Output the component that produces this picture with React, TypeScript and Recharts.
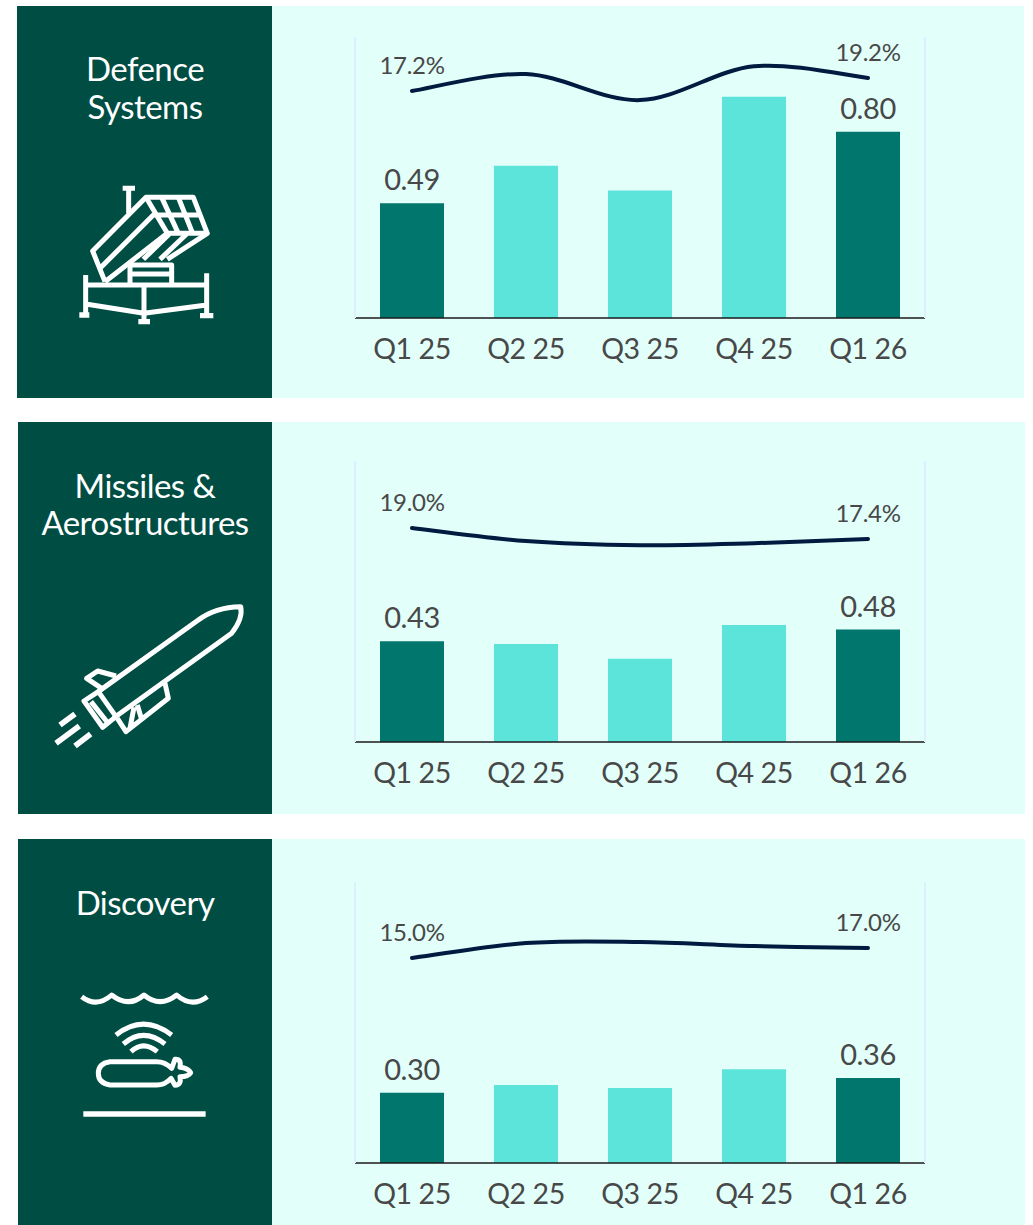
import React from "react";
import { ComposedChart, Bar, Line, XAxis, YAxis, Cell, LabelList } from "recharts";

const quarters = ["Q1 25", "Q2 25", "Q3 25", "Q4 25", "Q1 26"];

const defenceBars = [0.49, 0.65, 0.545, 0.945, 0.795];
const defenceMargin = [17.2, 19.8, 15.8, 21.0, 19.2];
const defenceBarLabels = ["0.49", null, null, null, "0.80"];
const defenceMarginLabels = ["17.2%", null, null, null, "19.2%"];

const missilesBars = [0.43, 0.418, 0.355, 0.5, 0.48];
const missilesMargin = [19.0, 17.1, 16.5, 16.8, 17.4];
const missilesBarLabels = ["0.43", null, null, null, "0.48"];
const missilesMarginLabels = ["19.0%", null, null, null, "17.4%"];

const discoveryBars = [0.3, 0.333, 0.32, 0.4, 0.363];
const discoveryMargin = [15.0, 18.0, 18.2, 17.4, 17.0];
const discoveryBarLabels = ["0.30", null, null, null, "0.36"];
const discoveryMarginLabels = ["15.0%", null, null, null, "17.0%"];

const FONT = "Lato, 'Open Sans', sans-serif";
const DARK = "#004d43";
const BG = "#e2fffa";
const BAR_DARK = "#00766c";
const BAR_LIGHT = "#5ce3da";
const TEXT = "#484848";
const PLOT_H = 281;

// Office-style smoothed line: each tangent follows the two neighbouring points.
function smoothCurve(context: any) {
  let pts: [number, number][] = [];
  return {
    areaStart() {},
    areaEnd() {},
    lineStart() {
      pts = [];
    },
    point(x: number, y: number) {
      pts.push([+x, +y]);
    },
    lineEnd() {
      pts.forEach((p, i) => {
        if (i === 0) {
          context.moveTo(p[0], p[1]);
          return;
        }
        const a = pts[Math.max(i - 2, 0)];
        const b = pts[i - 1];
        const d = pts[Math.min(i + 1, pts.length - 1)];
        context.bezierCurveTo(
          b[0] + (p[0] - a[0]) / 6,
          b[1] + (p[1] - a[1]) / 6,
          p[0] - (d[0] - b[0]) / 6,
          p[1] - (d[1] - b[1]) / 6,
          p[0],
          p[1]
        );
      });
    },
  };
}

type PanelProps = {
  top: number;
  height: number;
  left: number;
  right: number;
  plotTop: number;
  title: string[];
  titleY: number[];
  bars: number[];
  margin: number[];
  barLabels: (string | null)[];
  marginLabels: (string | null)[];
  marginDomain: [number, number];
  icon: React.ReactNode;
};

function Panel(p: PanelProps) {
  const rows = quarters.map((q, i) => ({
    q,
    bar: p.bars[i],
    pct: p.margin[i],
    barLabel: p.barLabels[i],
    pctLabel: p.marginLabels[i],
  }));
  return (
    <>
      <div style={{ position: "absolute", left: p.left, top: p.top, width: 272 - p.left, height: p.height, background: DARK }} />
      <div style={{ position: "absolute", left: 272, top: p.top, width: p.right - 272, height: p.height, background: BG }} />
      {p.title.map((t, i) => (
        <div
          key={t}
          style={{
            position: "absolute",
            left: 18,
            width: 254,
            top: p.titleY[i] - 22,
            height: 40,
            lineHeight: "40px",
            textAlign: "center",
            color: "#fff",
            fontFamily: FONT,
            fontSize: 33,
            letterSpacing: -0.55,
          }}
        >
          {t}
        </div>
      ))}
      <svg style={{ position: "absolute", left: 0, top: 0 }} width={1033} height={1225}>
        {p.icon}
      </svg>
      <div style={{ position: "absolute", left: 272, top: p.top }}>
        <ComposedChart
          width={752}
          height={p.plotTop + PLOT_H + 60}
          data={rows}
          margin={{ top: p.plotTop, left: 82, right: 98, bottom: 0 }}
        >
          <XAxis
            dataKey="q"
            height={60}
            tickLine={false}
            axisLine={{ stroke: "#1a1a1a", strokeWidth: 1.5 }}
            tick={{ fill: TEXT, fontSize: 28.5, fontFamily: FONT, letterSpacing: -0.4 }}
            tickMargin={15}
            interval={0}
          />
          <YAxis yAxisId="bars" width={1} domain={[0, 1.2]} tick={false} tickLine={false} axisLine={{ stroke: "#dcf0ff", strokeWidth: 2 }} />
          <YAxis yAxisId="pct" orientation="right" width={1} domain={p.marginDomain} tick={false} tickLine={false} axisLine={{ stroke: "#dcf0ff", strokeWidth: 2 }} />
          <Bar yAxisId="bars" dataKey="bar" barSize={64} isAnimationActive={false}>
            {rows.map((_, i) => (
              <Cell key={i} fill={i === 0 || i === rows.length - 1 ? BAR_DARK : BAR_LIGHT} />
            ))}
            <LabelList dataKey="barLabel" position="top" offset={13} fill={TEXT} fontSize={29} fontFamily={FONT} letterSpacing={-0.4} />
          </Bar>
          <Line
            yAxisId="pct"
            dataKey="pct"
            type={smoothCurve as any}
            stroke="#001a40"
            strokeWidth={4}
            strokeLinecap="round"
            dot={false}
            activeDot={false}
            isAnimationActive={false}
          >
            <LabelList dataKey="pctLabel" position="top" offset={17} fill={TEXT} fontSize={24} fontFamily={FONT} letterSpacing={-0.3} />
          </Line>
        </ComposedChart>
      </div>
    </>
  );
}

const iconLine = { fill: "none", stroke: "#fff", strokeWidth: 15, strokeLinejoin: "round" as const, strokeLinecap: "butt" as const };

const LauncherIcon = (
  <g transform="translate(50,170) scale(0.3333)" {...iconLine}>
    <path d="M218,55 H255 M236,55 V130" />
    <path d="M165,335 L128,243 L288,82 H430 L472,190 L352,268" />
    <path d="M288,82 L352,190 H472 M150,295 L310,135 H450 M165,335 L352,190" />
    <path d="M335,82 L385,190 M385,82 L428,190" />
    <path d="M280,268 L358,192 M330,268 L410,192" />
    <path d="M240,345 V285 H365 V345 M240,312 H365" />
    <path d="M107,315 V432 M470,310 V432 M282,345 V452 M107,345 H470 M107,402 L282,430 L470,405" />
    <path d="M88,435 H118 M265,455 H300 M450,437 H490" strokeWidth={16} />
  </g>
);

const MissileIcon = (
  <g transform="translate(30,590) scale(0.3333)" {...iconLine}>
    <path d="M205,305 L505,90 Q555,52 632,50 Q640,85 605,130 L250,385" />
    <path d="M162,333 L205,305 L258,380 L218,412 Z M183,335 L232,397" />
    <path d="M215,295 L170,265 L203,243 L258,258" />
    <path d="M262,385 L288,425 L415,325 L405,280 M300,415 L312,352 M322,345 L334,385" />
    <path d="M90,405 L135,372 M78,460 L148,408 M135,468 L182,432" strokeWidth={17} />
  </g>
);

const SubmarineIcon = (
  <g transform="translate(60,980) scale(0.3333)" {...iconLine}>
    <path d="M65,50 Q110,85 155,45 Q205,85 252,45 Q300,85 350,45 Q395,85 442,50" />
    <path d="M168,165 Q250,100 335,165 M190,192 Q250,140 315,192 M213,215 Q250,180 292,215" />
    <path d="M150,245 L290,245 Q315,245 335,265 L345,238 Q365,235 360,262 Q385,265 392,278 Q385,290 360,290 Q365,315 345,316 L333,295 Q315,315 290,315 L150,315 Q115,310 115,280 Q115,250 150,245 Z" />
    <path d="M70,402 H437" strokeWidth={16} />
  </g>
);

export default function App() {
  return (
    <div style={{ position: "absolute", left: 0, top: 0, width: 1033, height: 1225, background: "#fff", overflow: "hidden" }}>
      <Panel
        top={6}
        height={392}
        left={17}
        right={1024}
        plotTop={31}
        title={["Defence", "Systems"]}
        titleY={[70, 108]}
        bars={defenceBars}
        margin={defenceMargin}
        barLabels={defenceBarLabels}
        marginLabels={defenceMarginLabels}
        marginDomain={[-17.7, 25.5]}
        icon={LauncherIcon}
      />
      <Panel
        top={422}
        height={392}
        left={18}
        right={1025}
        plotTop={39}
        title={["Missiles &", "Aerostructures"]}
        titleY={[487, 524]}
        bars={missilesBars}
        margin={missilesMargin}
        barLabels={missilesBarLabels}
        marginLabels={missilesMarginLabels}
        marginDomain={[-12, 28.7]}
        icon={MissileIcon}
      />
      <Panel
        top={839}
        height={386}
        left={18}
        right={1025}
        plotTop={43}
        title={["Discovery"]}
        titleY={[904]}
        bars={discoveryBars}
        margin={discoveryMargin}
        barLabels={discoveryBarLabels}
        marginLabels={discoveryMarginLabels}
        marginDomain={[-26, 30.2]}
        icon={SubmarineIcon}
      />
    </div>
  );
}
